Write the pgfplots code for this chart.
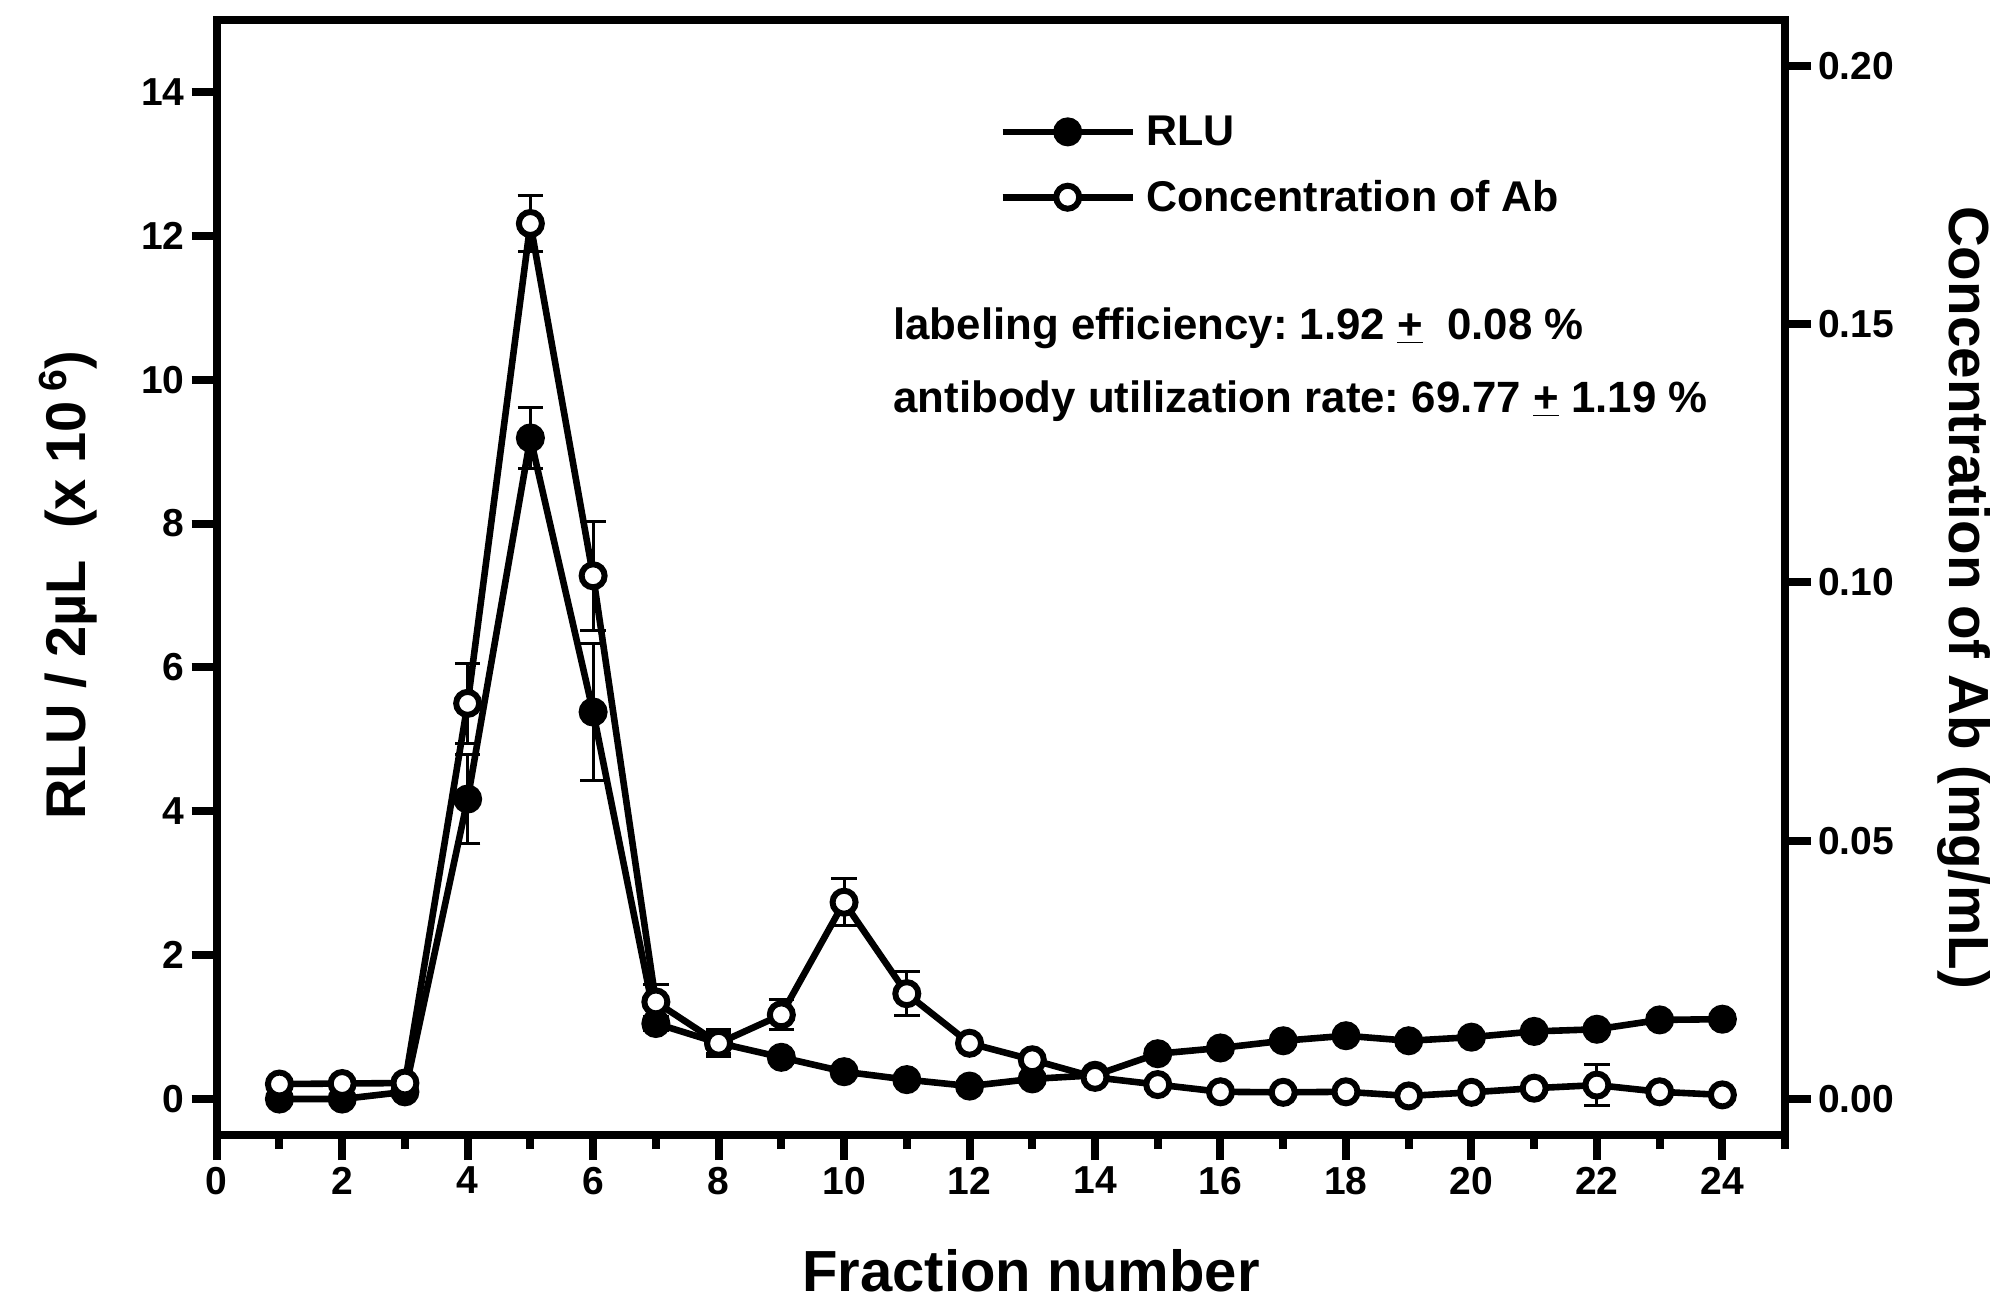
\documentclass[border=0pt]{standalone}
\usepackage{fontspec}
\setmainfont{Liberation Sans}
\usepackage{pgfplots}
\usepackage{pgfplotstable}
\pgfplotsset{compat=1.18}
\frenchspacing

\pgfplotstableread{
x y e
1 0.00 0.05
2 0.00 0.05
3 0.10 0.05
4 4.17 0.62
5 9.19 0.43
6 5.38 0.95
7 1.05 0.10
8 0.78 0.15
9 0.58 0.08
10 0.38 0.05
11 0.27 0.05
12 0.18 0.05
13 0.28 0.05
14 0.33 0.05
15 0.63 0.05
16 0.71 0.05
17 0.81 0.05
18 0.88 0.05
19 0.81 0.05
20 0.86 0.05
21 0.94 0.05
22 0.97 0.05
23 1.10 0.05
24 1.11 0.05
}\rludata

\pgfplotstableread{
x y e
1 0.0029 0.0003
2 0.0030 0.0003
3 0.0031 0.0003
4 0.0766 0.0077
5 0.1695 0.0055
6 0.1013 0.0105
7 0.0188 0.0033
8 0.0108 0.0026
9 0.0163 0.0029
10 0.0381 0.0046
11 0.0204 0.0043
12 0.0108 0.0010
13 0.0076 0.0008
14 0.0042 0.0005
15 0.0028 0.0006
16 0.0014 0.0004
17 0.0013 0.0004
18 0.0014 0.0004
19 0.0006 0.0004
20 0.0013 0.0004
21 0.0021 0.0004
22 0.0027 0.0039
23 0.0014 0.0004
24 0.0008 0.0004
}\concdata

\begin{document}
\begin{tikzpicture}
\path[use as bounding box] (0,0) rectangle (1006.5pt,654pt);
\begin{axis}[
  at={(108.35pt,86.5pt)}, anchor=south west,
  scale only axis, width=784.2pt, height=557.5pt,
  xmin=0, xmax=25, ymin=-0.5, ymax=15,
  xtick={0,2,...,24}, minor xtick={1,3,...,25},
  ytick={0,2,...,14},
  xtick pos=bottom, ytick pos=left,
  tick align=outside,
  major tick length=12.5pt, minor tick length=7pt,
  tick style={black, line width=4pt},
  axis line style={line width=4pt, line cap=rect},
  tick label style={font=\fontsize{19.5}{20}\selectfont\bfseries},
  /pgf/number format/assume math mode=true,
  clip=false,
  legend cell align=left,
  legend style={draw=none, fill=none, at={(rel axis cs:0.4988,0.870)}, anchor=west,
    inner sep=0pt, row sep=16pt,
    font=\fontsize{21.5}{22}\selectfont\bfseries,
    nodes={inner sep=0pt},
    /tikz/every odd column/.append style={column sep=5pt}},
  legend image code/.code={\draw[mark repeat=2,mark phase=2] plot coordinates {(0pt,0pt)(32.5pt,0pt)(65pt,0pt)};},
]
\addplot[black, line width=3.3pt, mark=*, mark size=5.75pt, mark options={solid, fill=black, line width=3pt},
  error bars/.cd, y dir=both, y explicit,
  error bar style={line width=1.5pt},
  error mark options={rotate=90, mark size=6.4pt, line width=1.5pt}]
  table[x=x, y=y, y error=e] {\rludata};
\addlegendentry{RLU}
\addlegendimage{black, line width=3.3pt, mark=*, mark size=5.75pt, mark options={solid, fill=white, line width=3pt}}
\addlegendentry{Concentration of Ab}
\node[anchor=base west, font=\fontsize{21.9}{22}\selectfont\bfseries, inner sep=0pt]
  at (rel axis cs:0.4312,0.7136) {labeling efficiency: 1.92 \underline{+}\ \ 0.08 \%};
\node[anchor=base west, font=\fontsize{21.9}{22}\selectfont\bfseries, inner sep=0pt]
  at (rel axis cs:0.4312,0.6478) {antibody utilization rate: 69.77 \underline{+} 1.19 \%};
\end{axis}
\begin{axis}[
  at={(108.35pt,86.5pt)}, anchor=south west,
  scale only axis, width=784.2pt, height=557.5pt,
  xmin=0, xmax=25, ymin=-0.006963, ymax=0.2089,
  axis x line=none, axis y line*=right,
  ytick={0,0.05,0.10,0.15,0.20},
  ytick pos=right,
  tick align=outside,
  major tick length=13pt,
  tick style={black, line width=4pt},
  axis line style={line width=4pt, line cap=rect},
  tick label style={font=\fontsize{19.5}{20}\selectfont\bfseries},
  yticklabel style={/pgf/number format/.cd, fixed, fixed zerofill, precision=2, assume math mode=true},
  clip=false,
]
\addplot[black, line width=3.3pt, mark=*, mark size=5.75pt, mark options={solid, fill=white, line width=3pt},
  error bars/.cd, y dir=both, y explicit,
  error bar style={line width=1.5pt},
  error mark options={rotate=90, mark size=6.4pt, line width=1.5pt}]
  table[x=x, y=y, y error=e] {\concdata};
\end{axis}
\node[anchor=base, font=\fontsize{29}{30}\selectfont\bfseries] at (515.5pt,8.5pt) {Fraction number};
\node[anchor=base, rotate=90, font=\fontsize{28}{30}\selectfont\bfseries] at (42.5pt,361.5pt) {RLU / 2µL\ \ (x 10\,\textsuperscript{6})};
\node[anchor=base, rotate=-90, font=\fontsize{28.3}{30}\selectfont\bfseries] at (974.5pt,355.25pt) {Concentration of Ab (mg/mL)};
\end{tikzpicture}
\end{document}
